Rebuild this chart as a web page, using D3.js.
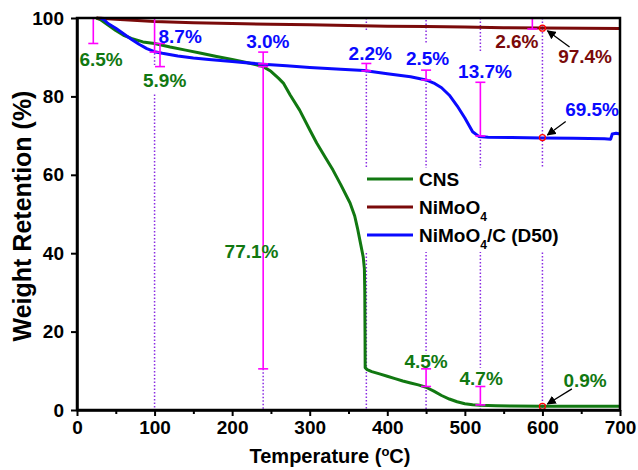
<!DOCTYPE html>
<html>
<head>
<meta charset="utf-8">
<script src="https://cdn.jsdelivr.net/npm/d3@7"></script>
<style>
  body { margin: 0; background: #fff; }
  svg { display: block; }
  text { font-family: "Liberation Sans", Arial, sans-serif; font-weight: bold; }
</style>
</head>
<body>
<svg width="638" height="470"></svg>
<script>
// Data (temperature in °C, weight retention in %)
const cnsT = [25, 30, 40, 50, 60, 70, 85, 100, 120, 140, 160, 180, 200, 220, 240, 250, 260, 266, 275, 287, 300, 309, 320, 330, 340, 352, 358, 362, 366, 369, 370.5, 371, 371.3, 371.5, 374, 380, 390, 400, 410, 420, 430, 440, 450, 460, 470, 480, 490, 500, 510, 520, 540, 560, 600, 650, 700];
const cnsW = [100, 99.6, 98.2, 96.8, 95.6, 94.8, 93.9, 93.5, 92.6, 91.8, 91.0, 90.2, 89.4, 88.6, 87.6, 86.4, 84.6, 83.4, 80.3, 76.5, 71.5, 68.1, 64.5, 61.2, 57.5, 52.8, 49.5, 46.0, 42.0, 39.0, 36.0, 30, 20, 10.8, 10.3, 9.8, 9.2, 8.6, 8.0, 7.4, 6.9, 6.4, 5.8, 4.8, 3.7, 2.8, 2.1, 1.6, 1.35, 1.2, 1.1, 1.0, 0.95, 0.95, 0.95];

const nmoT = [25, 50, 100, 150, 200, 250, 300, 350, 400, 450, 500, 550, 600, 650, 700];
const nmoW = [100, 99.7, 99.1, 98.8, 98.6, 98.4, 98.3, 98.1, 97.9, 97.8, 97.7, 97.5, 97.45, 97.4, 97.3];

const d50T = [30, 35, 40, 50, 60, 70, 80, 90, 100, 110, 130, 150, 170, 200, 240, 270, 300, 340, 370, 400, 430, 450, 460, 470, 480, 490, 500, 510, 518, 530, 560, 600, 640, 680, 688, 690, 695, 700];
const d50W = [100, 99.5, 98.6, 97.4, 96.0, 94.6, 93.3, 92.2, 91.4, 91.0, 90.3, 89.8, 89.4, 88.9, 88.2, 87.8, 87.4, 86.9, 86.6, 85.8, 85.0, 84.2, 83.4, 82.2, 80.3, 77.6, 74.5, 71.0, 69.8, 69.6, 69.5, 69.4, 69.3, 69.2, 69.1, 70.4, 70.6, 70.4];

const xTicks = [0, 100, 200, 300, 400, 500, 600, 700];
const xMinor = [50, 150, 250, 350, 450, 550, 650];
const yTicks = [0, 20, 40, 60, 80, 100];

// weight-loss step bars: [T, from, to]
const steps = [[21, 100, 93.5], [100, 100, 91.3], [107, 93.5, 87.6], [240, 91.3, 88.3], [240, 87.6, 10.5],
  [373, 88.4, 86.5], [450, 86.7, 84.2], [520, 83.6, 69.9], [587, 100, 97.2], [450, 10.5, 6.0], [520, 6.0, 1.3]];

// dotted guide segments: [T, from, to]
const guides = [[100, 91.0, 88.0], [100, 80.5, 0], [240, 10.5, 0],
  [373, 100, 96.7], [373, 86.5, 0],
  [450, 99.5, 93.6], [450, 84.2, 14.5], [450, 6.0, 0],
  [520, 100, 91.2], [520, 69.9, 10.8], [520, 1.3, 0],
  [600, 100, 0]];

// labels: [text, T, W (baseline), series]
const labels = [["6.5%", 31, 87.8, "cns"], ["8.7%", 133, 93.6, "d50"], ["5.9%", 113, 82.4, "cns"],
  ["3.0%", 246, 92.3, "d50"], ["77.1%", 225, 38.8, "cns"], ["2.2%", 378, 89.3, "d50"],
  ["2.5%", 452, 88.0, "d50"], ["13.7%", 526, 84.7, "d50"], ["2.6%", 567, 92.3, "nmo"],
  ["97.4%", 655, 88.5, "nmo"], ["69.5%", 664, 75.0, "d50"], ["0.9%", 655, 5.9, "cns"],
  ["4.5%", 450, 10.7, "cns"], ["4.7%", 521, 6.4, "cns"]];

// arrows: [fromT, fromW, toT, toW]
const arrows = [[635, 92.6, 600, 97.4], [630, 73.6, 600, 69.5], [638, 5.4, 600, 0.9]];
const marked = [[600, 97.4], [600, 69.5], [600, 0.9]];

const colors = { cns: "#117811", nmo: "#7a0a0a", d50: "#0a0aff" };

const svg = d3.select("svg");
const x = d3.scaleLinear().domain([0, 700]).range([77, 620]);
const y = d3.scaleLinear().domain([0, 100]).range([410, 18]);

svg.append("defs").append("marker")
  .attr("id", "arr").attr("viewBox", "0 0 10 10").attr("refX", 9).attr("refY", 5)
  .attr("markerWidth", 7).attr("markerHeight", 7).attr("orient", "auto")
  .append("path").attr("d", "M0,0L10,5L0,10z").attr("fill", "#000");

// dotted guides
svg.append("g").selectAll("line").data(guides).join("line")
  .attr("x1", d => x(d[0])).attr("x2", d => x(d[0]))
  .attr("y1", d => y(d[1])).attr("y2", d => y(d[2]))
  .attr("stroke", "#8a2be2").attr("stroke-width", 1.5).attr("stroke-dasharray", "1.5,2");

// legend background hides guides
svg.append("rect").attr("x", 364).attr("y", 168).attr("width", 200).attr("height", 84).attr("fill", "#fff");

const line = d3.line().x(d => x(d[0])).y(d => y(d[1]));
const series = [["cns", cnsT, cnsW], ["nmo", nmoT, nmoW], ["d50", d50T, d50W]];
svg.append("g").selectAll("path").data(series).join("path")
  .attr("d", d => line(d[1].map((t, i) => [t, d[2][i]])))
  .attr("fill", "none").attr("stroke", d => colors[d[0]]).attr("stroke-width", 3)
  .attr("stroke-linejoin", "round");

// step bars
const sb = svg.append("g").attr("stroke", "#ff00ff").attr("stroke-width", 1.6);
steps.forEach(s => {
  sb.append("line").attr("x1", x(s[0])).attr("x2", x(s[0])).attr("y1", y(s[1])).attr("y2", y(s[2]));
  [s[1], s[2]].forEach(v => sb.append("line").attr("x1", x(s[0]) - 5).attr("x2", x(s[0]) + 5).attr("y1", y(v)).attr("y2", y(v)));
});

// arrows and marked points
svg.append("g").selectAll("line").data(arrows).join("line")
  .attr("x1", d => x(d[0])).attr("y1", d => y(d[1]))
  .attr("x2", d => x(d[2]) + 5).attr("y2", d => y(d[3]) + (d[1] > d[3] ? -2.5 : 2.5))
  .attr("stroke", "#000").attr("stroke-width", 1.3).attr("marker-end", "url(#arr)");
svg.append("g").selectAll("circle").data(marked).join("circle")
  .attr("cx", d => x(d[0])).attr("cy", d => y(d[1])).attr("r", 3)
  .attr("fill", "none").attr("stroke", "#ff0000").attr("stroke-width", 1.3);

// labels
svg.append("g").selectAll("text").data(labels).join("text")
  .attr("x", d => x(d[1])).attr("y", d => y(d[2])).attr("text-anchor", "middle")
  .attr("font-size", 19).attr("fill", d => colors[d[3]]).text(d => d[0]);

// axes
svg.append("g").attr("transform", "translate(0,410)")
  .call(d3.axisBottom(x).tickValues(xTicks).tickSize(6).tickSizeOuter(0).tickPadding(5));
svg.append("g").attr("transform", "translate(0,410)")
  .call(d3.axisBottom(x).tickValues(xMinor).tickSize(4).tickSizeOuter(0).tickFormat(""))
  .call(g => g.select(".domain").remove());
svg.append("g").attr("transform", "translate(77,0)")
  .call(d3.axisLeft(y).tickValues(yTicks).tickSize(6).tickSizeOuter(0).tickPadding(7));
svg.selectAll(".tick line").attr("stroke-width", 2);
svg.selectAll(".tick text").attr("font-size", 19).attr("fill", "#000")
  .attr("font-family", "Liberation Sans, Arial, sans-serif").attr("font-weight", "bold");
svg.selectAll(".domain").attr("stroke-width", 2.5);

svg.append("rect").attr("x", 77).attr("y", 18).attr("width", 543).attr("height", 392)
  .attr("fill", "none").attr("stroke", "#000").attr("stroke-width", 2.5);

// axis titles
const xt = svg.append("text").attr("x", 330).attr("y", 463).attr("text-anchor", "middle").attr("font-size", 20);
xt.append("tspan").text("Temperature (");
xt.append("tspan").attr("baseline-shift", "super").attr("font-size", 13).text("o");
xt.append("tspan").text("C)");
svg.append("text").attr("transform", "translate(31,216) rotate(-90)").attr("text-anchor", "middle")
  .attr("font-size", 25).text("Weight Retention (%)");

// legend
const leg = [["cns", "CNS", ""], ["nmo", "NiMoO", "4"], ["d50", "NiMoO", "4", "/C (D50)"]];
const legY = [179, 207, 235];
leg.forEach((l, i) => {
  svg.append("line").attr("x1", 367).attr("x2", 413).attr("y1", legY[i]).attr("y2", legY[i])
    .attr("stroke", colors[l[0]]).attr("stroke-width", 3);
  const t = svg.append("text").attr("x", 419).attr("y", legY[i] + 7).attr("font-size", 19);
  t.append("tspan").text(l[1]);
  if (l[2]) t.append("tspan").attr("baseline-shift", "sub").attr("font-size", 12).text(l[2]);
  if (l[3]) t.append("tspan").attr("baseline-shift", "0").text(l[3]);
});
</script>
</body>
</html>
